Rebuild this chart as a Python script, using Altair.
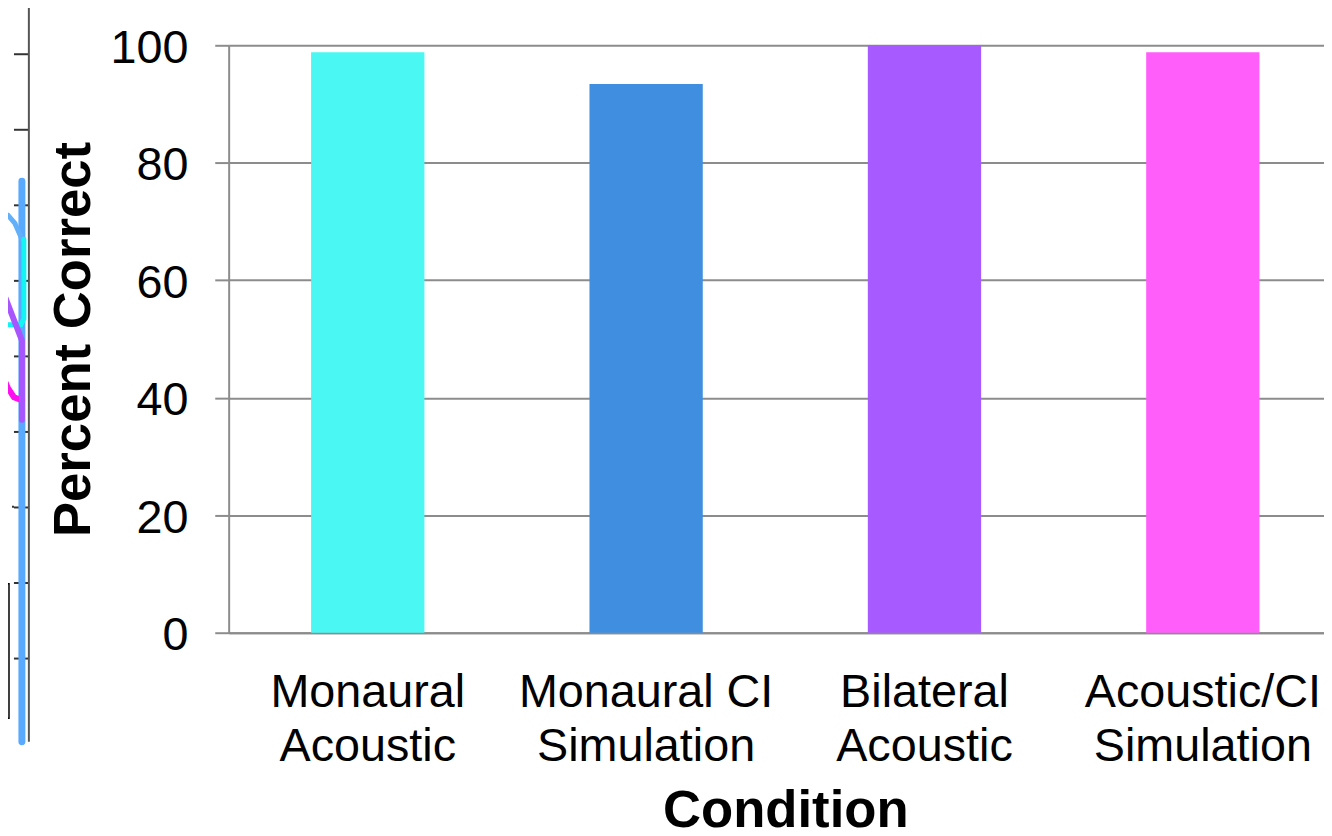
import altair as alt
import pandas as pd

# ---------------- main chart data ----------------
conditions = ["Monaural\nAcoustic", "Monaural CI\nSimulation", "Bilateral\nAcoustic", "Acoustic/CI\nSimulation"]
percent_correct = [98.8, 93.4, 100.0, 98.8]
bar_colors = ["#4AF7F2", "#3F8EE0", "#A75AFF", "#FF5EFA"]
y_ticks = [0, 20, 40, 60, 80, 100]

# ---------------- cropped neighbouring panel (far left edge) ----------------
nb_axis_x = [29, 29]
nb_axis_y = [-1, 97]
nb_ticks = [10, 20, 30, 40, 50, 60, 70, 80, 90]
nb_blue_x = [22, 22]
nb_blue_y = [-1, 73.2]
nb_lightblue_x = [0, 8, 15, 22]
nb_lightblue_y = [69.2, 68.7, 67.6, 65.5]
nb_cyan_x = [0, 21, 24, 24]
nb_cyan_y = [54.2, 54.2, 55.0, 65.5]
nb_magenta_x = [0, 8, 14, 22]
nb_magenta_y = [48.2, 45.8, 44.6, 44.2]
nb_purple_x = [0, 22, 22]
nb_purple_y = [59.6, 52.1, 41.6]
nb_legend_box = {"x": -10, "x2": 9, "y": 2.1, "y2": 19.9}

FONT = "Liberation Sans"
GRID = "#8c8c8c"

nbx = alt.Scale(domain=[0, 30], range=[-230, -200], nice=False, zero=False)
nby = alt.Scale(domain=[0, 100], range=[693, -67], nice=False, zero=False)


def nb_line(xs, ys, color, width):
    df = pd.DataFrame({"x": xs, "y": ys, "o": list(range(len(xs)))})
    return alt.Chart(df).mark_line(color=color, strokeWidth=width, strokeCap="round", clip=False).encode(
        x=alt.X("x:Q", scale=nbx, axis=None),
        y=alt.Y("y:Q", scale=nby, axis=None),
        order="o:Q",
    )


axis_df = pd.DataFrame({"x": [nb_axis_x[0]], "y": [nb_axis_y[0]], "y2": [nb_axis_y[1]]})
nb_axis = alt.Chart(axis_df).mark_rule(color="#555555", strokeWidth=2).encode(
    x=alt.X("x:Q", scale=nbx, axis=None),
    y=alt.Y("y:Q", scale=nby, axis=None),
    y2="y2:Q",
)
tick_df = pd.DataFrame({"x": [14] * len(nb_ticks), "x2": [29] * len(nb_ticks), "y": nb_ticks})
nb_tick = alt.Chart(tick_df).mark_rule(color="#333333", strokeWidth=2).encode(
    x=alt.X("x:Q", scale=nbx, axis=None),
    x2="x2:Q",
    y=alt.Y("y:Q", scale=nby, axis=None),
)
dot_df = pd.DataFrame({"x": [0], "x2": [14], "y": [30.1]})
nb_dot = alt.Chart(dot_df).mark_rule(color="#333333", strokeWidth=2, strokeDash=[2, 4]).encode(
    x=alt.X("x:Q", scale=nbx, axis=None),
    x2="x2:Q",
    y=alt.Y("y:Q", scale=nby, axis=None),
)
box_df = pd.DataFrame([nb_legend_box])
nb_box = alt.Chart(box_df).mark_rect(filled=False, stroke="#000000", strokeWidth=1.5).encode(
    x=alt.X("x:Q", scale=nbx, axis=None),
    x2="x2:Q",
    y=alt.Y("y:Q", scale=nby, axis=None),
    y2="y2:Q",
)

neighbor = alt.layer(
    nb_box,
    nb_dot,
    nb_tick,
    nb_axis,
    nb_line(nb_blue_x, nb_blue_y, "#58A9FF", 7),
    nb_line(nb_lightblue_x, nb_lightblue_y, "#62B0FA", 5),
    nb_line(nb_cyan_x, nb_cyan_y, "#12F4F4", 5),
    nb_line(nb_magenta_x, nb_magenta_y, "#FF10F0", 6),
    nb_line(nb_purple_x, nb_purple_y, "#A955FF", 6),
)

# ---------------- main bar chart ----------------
df = pd.DataFrame({"Condition": conditions, "Percent": percent_correct})

bars = alt.Chart(df).mark_bar().encode(
    x=alt.X(
        "Condition:N",
        sort=conditions,
        scale=alt.Scale(paddingInner=0.593, paddingOuter=0.264, align=0.561),
        axis=alt.Axis(
            orient="bottom",
            ticks=False,
            tickSize=0,
            domainColor=GRID,
            domainWidth=2,
            labelFont=FONT,
            labelFontSize=47,
            labelColor="#000000",
            labelLineHeight=55,
            labelPadding=37,
            labelAngle=0,
            labelLimit=500,
            labelOverlap=False,
            labelExpr="split(datum.label, '\\n')",
            title="Condition",
            titleFont=FONT,
            titleFontSize=53,
            titleFontWeight="bold",
            titleColor="#000000",
            titleX=560,
            titleY=195,
            titleBaseline="alphabetic",
            titleAlign="center",
        ),
    ),
    y=alt.Y(
        "Percent:Q",
        scale=alt.Scale(domain=[0, 100], nice=False),
        axis=alt.Axis(
            orient="left",
            values=y_ticks,
            grid=True,
            gridColor=GRID,
            gridWidth=2,
            domainColor=GRID,
            domainWidth=2,
            tickColor=GRID,
            tickWidth=2,
            tickSize=14,
            labelFont=FONT,
            labelFontSize=47,
            labelColor="#000000",
            labelPadding=27,
            labelBaseline="alphabetic",
            labelOffset=17,
            title="Percent Correct",
            titleFont=FONT,
            titleFontSize=53,
            titleFontWeight="bold",
            titleColor="#000000",
            titleX=-140,
            titleY=295.5,
            titleAngle=270,
            titleBaseline="alphabetic",
            titleAlign="center",
        ),
    ),
    color=alt.Color("Condition:N", sort=conditions,
                    scale=alt.Scale(domain=conditions, range=bar_colors), legend=None),
)

chart = (
    alt.layer(neighbor, bars)
    .resolve_scale(x="independent", y="independent", color="independent")
    .properties(
        width=1102,
        height=591,
        padding={"left": 222, "top": 35, "right": 0, "bottom": 202},
        autosize=alt.AutoSizeParams(type="none"),
        background="#ffffff",
    )
    .configure_view(stroke=None)
)

chart.save("out.html", embed_options={"renderer": "svg", "actions": False})
